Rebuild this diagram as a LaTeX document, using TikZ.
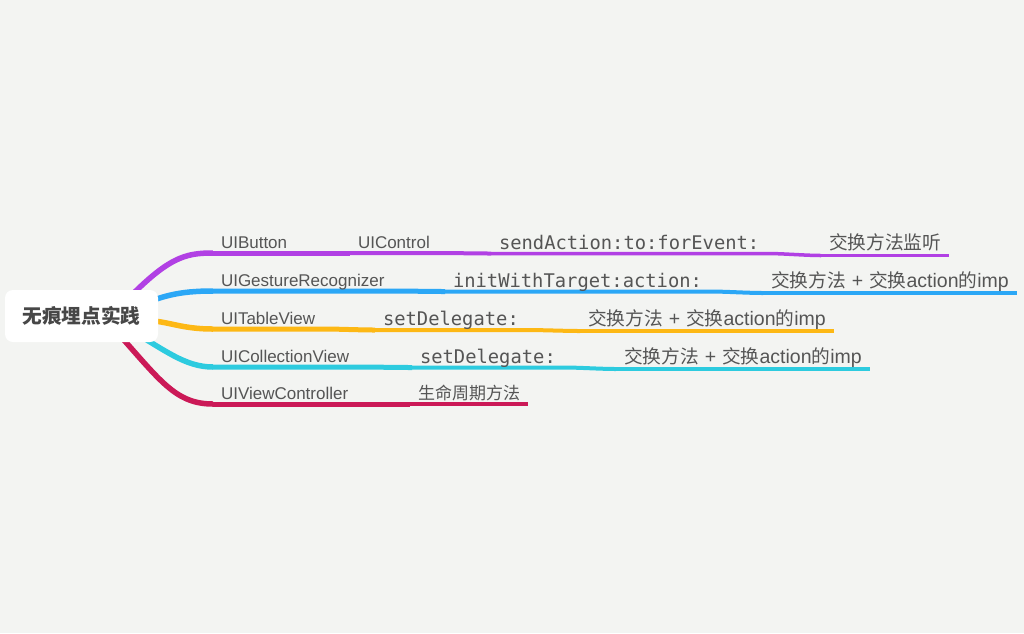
\documentclass[tikz,border=0pt]{standalone}
\usepackage{fontspec}
\setmainfont{Liberation Sans}
\setmonofont{DejaVu Sans Mono}
\newfontfamily\cjk{Noto Sans CJK SC}
\newcommand{\latinfnt}{\rmfamily\fontsize{19.5}{22}\selectfont}
\newcommand{\swapimp}{交换方法\hspace{6pt}{\latinfnt +}\hspace{6pt}交换{\latinfnt action}的{\latinfnt imp}}
\definecolor{bgcol}{HTML}{F3F4F2}
\definecolor{txtcol}{HTML}{555555}
\definecolor{rootcol}{HTML}{474747}
\definecolor{brpurple}{HTML}{B140E4}
\definecolor{brblue}{HTML}{2BA7F6}
\definecolor{bryellow}{HTML}{FDB815}
\definecolor{brcyan}{HTML}{2DCBDF}
\definecolor{brred}{HTML}{CB1957}
\pgfdeclarelayer{back}
\pgfsetlayers{back,main}
\begin{document}
\begin{tikzpicture}[x=1pt,y=-1pt,line cap=round,outer sep=0pt,
rootbox/.style={fill=white,rounded corners=8pt,minimum width=153pt,minimum height=52pt,inner sep=0pt,text=rootcol,font=\cjk\bfseries\fontsize{19.7}{22}\selectfont},
leaf/.style={anchor=south west,inner xsep=8pt,inner ysep=5pt,text depth=0pt,text=txtcol,font=\fontsize{17}{20}\selectfont},
codebox/.style={leaf,inner ysep=4.5pt,font=\ttfamily\fontsize{18.8}{22}\selectfont},
hanzi/.style={leaf,inner ysep=6pt,font=\cjk\fontsize{18.7}{22}\selectfont},
hanzism/.style={leaf,inner ysep=5pt,font=\cjk\fontsize{17}{20}\selectfont},
lvlA/.style={line width=5.5pt},
lvlB/.style={line width=5pt},
lvlC/.style={line width=4pt},
lvlD/.style={line width=3.5pt},
lvlE/.style={line width=3pt}]
\useasboundingbox (0,0) rectangle (1024,633);
\draw (5,290) node[rootbox,anchor=north west] (root) {无痕埋点实践};
% first row
\draw (213,253) node[leaf] (b1) {UIButton};
\draw (350,253) node[leaf] (c1) {UIControl};
\draw (491,253.5) node[codebox] (d1) {sendAction:to:forEvent:};
\draw (821,255.5) node[hanzi] (e1) {交换方法监听};
% second row
\draw (213,291) node[leaf] (b2) {UIGestureRecognizer};
\draw (445,291.5) node[codebox] (c2) {initWithTarget:action:};
\draw (763,293) node[hanzi] (d2) {\swapimp};
% third row
\draw (213,329) node[leaf] (b3) {UITableView};
\draw (375,330) node[codebox] (c3) {setDelegate:};
\draw (580,331) node[hanzi] (d3) {\swapimp};
% fourth row
\draw (213,367) node[leaf] (b4) {UICollectionView};
\draw (412,367.5) node[codebox] (c4) {setDelegate:};
\draw (616,369) node[hanzi] (d4) {\swapimp};
% fifth row
\draw (213,404) node[leaf] (b5) {UIViewController};
\draw (410,404) node[hanzism] (c5) {生命周期方法};

\begin{pgfonlayer}{back}
\fill[bgcol] (0,0) rectangle (1024,633);
% branches out of the root
\draw[lvlA,brpurple] (root.north east) ++(-35,14) .. controls +(45,-47) and +(-28,0) .. (b1.south west);
\draw[lvlA,brblue] (root.east) ++(-28,-6) .. controls +(30,-14) and +(-35,0) .. (b2.south west);
\draw[lvlA,bryellow] (root.east) ++(-20,4) .. controls +(30,0) and +(-35,0) .. (b3.south west);
\draw[lvlA,brcyan] (root.east) ++(-28,14) .. controls +(35,20) and +(-28,0) .. (b4.south west);
\draw[lvlA,brred] (root.south east) ++(-43,-12) .. controls +(45,50) and +(-38,0) .. (b5.south west);
% underlines and links
\draw[lvlB,brpurple] (b1.south west) -- (b1.south east) -- (c1.south west);
\draw[lvlC,brpurple] (c1.south west) -- (c1.south east) .. controls +(15,0) and +(-15,0) .. (d1.south west);
\draw[lvlD,brpurple] (d1.south west) -- (d1.south east) .. controls +(15,0) and +(-15,0) .. (e1.south west);
\draw[lvlE,brpurple] (e1.south west) -- (e1.south east);
\draw[lvlB,brblue] (b2.south west) -- (b2.south east) .. controls +(15,0) and +(-15,0) .. (c2.south west);
\draw[lvlC,brblue] (c2.south west) -- (c2.south east) .. controls +(15,0) and +(-15,0) .. (d2.south west);
\draw[lvlD,brblue] (d2.south west) -- (d2.south east);
\draw[lvlB,bryellow] (b3.south west) -- (b3.south east) .. controls +(15,0) and +(-15,0) .. (c3.south west);
\draw[lvlC,bryellow] (c3.south west) -- (c3.south east) .. controls +(15,0) and +(-15,0) .. (d3.south west);
\draw[lvlD,bryellow] (d3.south west) -- (d3.south east);
\draw[lvlB,brcyan] (b4.south west) -- (b4.south east) .. controls +(15,0) and +(-15,0) .. (c4.south west);
\draw[lvlC,brcyan] (c4.south west) -- (c4.south east) .. controls +(15,0) and +(-15,0) .. (d4.south west);
\draw[lvlD,brcyan] (d4.south west) -- (d4.south east);
\draw[lvlB,brred] (b5.south west) -- (b5.south east) -- (c5.south west);
\draw[lvlC,brred] (c5.south west) -- (c5.south east);
\end{pgfonlayer}
\end{tikzpicture}
\end{document}
